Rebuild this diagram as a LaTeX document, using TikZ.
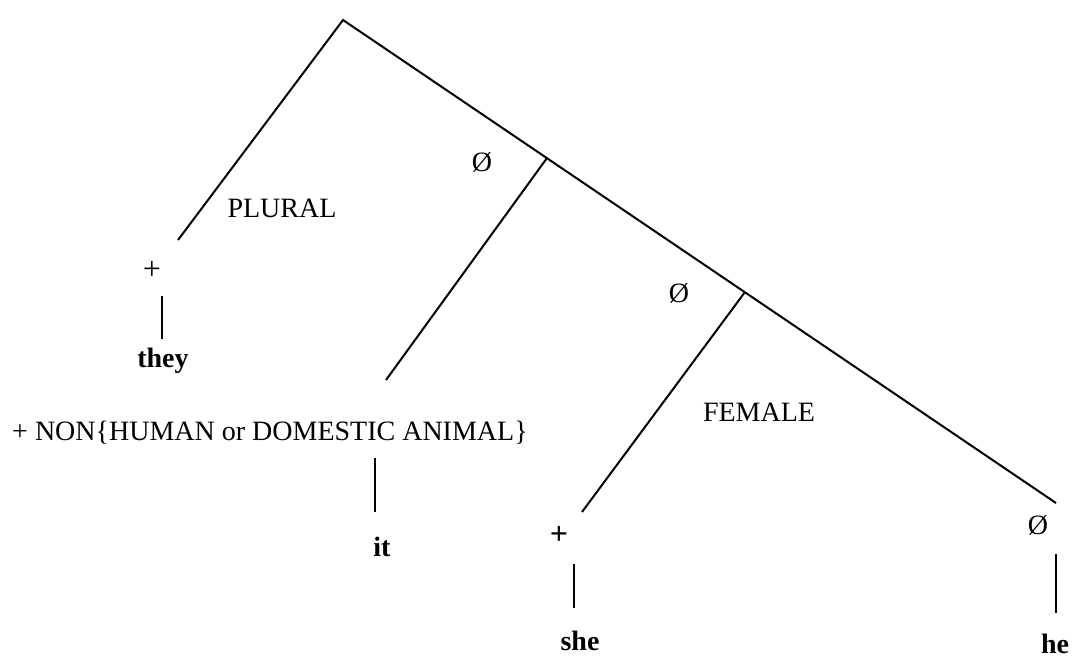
\documentclass[tikz,border=0pt]{standalone}
\usepackage{fontspec}
\setmainfont{Liberation Serif}
\usetikzlibrary{positioning}

\begin{document}
\begin{tikzpicture}[x=1pt, y=-1pt,
  rama/.style={line width=2pt},
  palo/.style={line width=1.4pt},
  rasgo/.style={font=\fontsize{28}{32}\selectfont, inner sep=0pt},
  forma/.style={font=\fontsize{28}{32}\selectfont\bfseries, inner sep=0pt, anchor=base}]
\useasboundingbox (0,0) rectangle (1073,659);
% Arbol
\coordinate (raiz) at (343,20);
\coordinate (fin) at (1056,503);
\coordinate (nudo1) at (547,158);
\coordinate (nudo2) at (745,292);
\coordinate (hoja1) at (178,240);
\coordinate (hoja2) at (386,380);
\coordinate (hoja3) at (582,512);
\draw[rama] (hoja1) -- (raiz) -- (fin);
\draw[rama] (nudo1) -- (hoja2);
\draw[rama] (nudo2) -- (hoja3);
% Rasgos
\node[rasgo] (plural) at (282,208) {PLURAL};
\node[rasgo] (vacio1) at (482,162) {Ø};
\node[rasgo] (vacio2) at (679,293) {Ø};
\node[rasgo] (female) at (759,412) {FEMALE};
\node[rasgo] (vacio3) at (1038,525) {Ø};
\node[rasgo, font=\fontsize{32}{36}\selectfont] (mas1) at (152,270) {+};
\node[rasgo, font=\fontsize{32}{36}\selectfont\bfseries] (mas2) at (559,535) {+};
\node[rasgo] (nohumano) at (270,433) {+ NON\{HUMAN or DOMESTIC ANIMAL\}};
% Pronombres
\node[forma] (they) at (163,367) {they};
\node[forma] (it) at (382,556) {it};
\node[forma] (she) at (580,650) {she};
\node[forma] (he) at (1055,653) {he};
\draw[palo] ([xshift=-1pt]they.base) ++(0,-28) -- ++(0,-43);
\draw[palo] ([xshift=-7pt]it.base) ++(0,-44) -- ++(0,-54);
\draw[palo] ([xshift=-6pt]she.base) ++(0,-42) -- ++(0,-44);
\draw[palo] ([xshift=1pt]he.base) ++(0,-40) -- ++(0,-59);
\end{tikzpicture}
\end{document}
